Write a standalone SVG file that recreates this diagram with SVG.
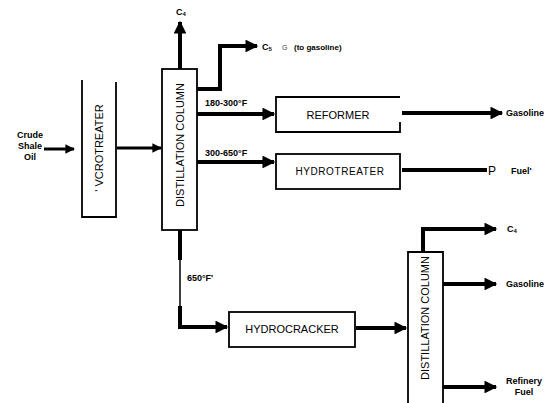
<svg xmlns="http://www.w3.org/2000/svg" width="547" height="403" viewBox="0 0 547 403">
<style>
.box{fill:#fff;stroke:#000;stroke-width:1.8}
.ln{fill:none;stroke:#000;stroke-width:4}
.thin{fill:none;stroke:#000;stroke-width:1.5}
.lbl{font-family:"Liberation Sans",Arial,sans-serif;font-size:9px;font-weight:bold;fill:#000}
.bt{font-family:"Liberation Sans",Arial,sans-serif;font-size:11px;fill:#000}
</style>
<defs>
<marker id="ah" viewBox="0 0 10 10" refX="9" refY="5" markerWidth="4" markerHeight="3.2" orient="auto" markerUnits="strokeWidth">
<path d="M0,0 L10,5 L0,10 Z" fill="#000"/>
</marker>
</defs>
<rect width="547" height="403" fill="#fff"/>
<g id="connectors">
<line class="ln" x1="44" y1="149" x2="74" y2="149" style="stroke-width:3" marker-end="url(#ah)"/>
<line class="ln" x1="117" y1="148" x2="161" y2="148" style="stroke-width:3" marker-end="url(#ah)"/>
<line class="ln" x1="180" y1="69" x2="180" y2="22" marker-end="url(#ah)"/>
<polyline class="ln" points="197,89 220,89 220,46 257,46" marker-end="url(#ah)"/>
<line class="ln" x1="197" y1="114" x2="274" y2="114" marker-end="url(#ah)"/>
<line class="ln" x1="197" y1="162" x2="274" y2="162" marker-end="url(#ah)"/>
<line class="ln" x1="402" y1="113" x2="502" y2="113" marker-end="url(#ah)"/>
<line class="ln" x1="402" y1="170" x2="487" y2="170"/>
<line class="ln" x1="180" y1="230" x2="180" y2="260"/>
<line class="thin" x1="180" y1="260" x2="180" y2="306"/>
<polyline class="ln" points="180,306 180,327 227,327" marker-end="url(#ah)"/>
<line class="ln" x1="356" y1="328" x2="406" y2="328" marker-end="url(#ah)"/>
<polyline class="ln" points="423,252 423,229 496,229" marker-end="url(#ah)"/>
<line class="ln" x1="443" y1="284" x2="496" y2="284" marker-end="url(#ah)"/>
<line class="ln" x1="443" y1="387" x2="496" y2="387" marker-end="url(#ah)"/>
</g>
<g id="feed">
<text class="lbl" x="30" y="138" text-anchor="middle">Crude</text>
<text class="lbl" x="30" y="149" text-anchor="middle">Shale</text>
<text class="lbl" x="30" y="160" text-anchor="middle">Oil</text>
</g>
<g id="hydrotreater1">
<path d="M82,80 L82,217 L116,217 L116,82" class="box" style="fill:none"/>
<text class="bt" transform="translate(103,148) rotate(-90)" text-anchor="middle">' VCROTREATER</text>
</g>
<g id="distillation1">
<rect class="box" x="162" y="69" width="35" height="161"/>
<text class="bt" transform="translate(184,145) rotate(-90)" text-anchor="middle">DISTILLATION COLUMN</text>
</g>
<g id="c4-top">
<text class="lbl" x="176" y="15">C<tspan style="font-size:6px" dy="1">4</tspan></text>
</g>
<g id="c5">
<text class="lbl" x="262" y="50">C<tspan style="font-size:6px" dy="1">5</tspan></text>
<text class="bt" x="282" y="50" style="font-size:7px;fill:#444">G</text>
<text class="lbl" x="294" y="50" style="font-size:8px">(to gasoline)</text>
</g>
<g id="cut-labels">
<text class="lbl" x="205" y="106">180-300°F</text>
<text class="lbl" x="205" y="156">300-650°F</text>
<text class="lbl" x="187" y="281">650°F'</text>
</g>
<g id="reformer">
<path class="box" style="fill:none" d="M400,97 L276,97 L276,132 L400,132 L400,122"/>
<text class="bt" x="338" y="119" text-anchor="middle">REFORMER</text>
</g>
<g id="hydrotreater2">
<rect class="box" x="276" y="154" width="124" height="35"/>
<text class="bt" x="340" y="175" text-anchor="middle" style="font-size:10px;letter-spacing:0.6px">HYDROTREATER</text>
</g>
<g id="gasoline1"><text class="lbl" x="506" y="116">Gasoline</text></g>
<g id="fuel1">
<text class="bt" x="488" y="175" style="font-size:12px">P</text>
<text class="lbl" x="511" y="174">Fuel'</text>
</g>
<g id="hydrocracker">
<rect class="box" x="229" y="312" width="126" height="35"/>
<text class="bt" x="292" y="333" text-anchor="middle">HYDROCRACKER</text>
</g>
<g id="distillation2">
<path class="box" d="M408,405 L408,252 L443,252 L443,405"/>
<text class="bt" transform="translate(429,318) rotate(-90)" text-anchor="middle">DISTILLATION COLUMN</text>
</g>
<g id="outputs2">
<text class="lbl" x="507" y="232">C<tspan style="font-size:6px" dy="1">4</tspan></text>
<text class="lbl" x="506" y="287">Gasoline</text>
<text class="lbl" x="524" y="384" text-anchor="middle">Refinery</text>
<text class="lbl" x="524" y="395" text-anchor="middle">Fuel</text>
</g>
</svg>
